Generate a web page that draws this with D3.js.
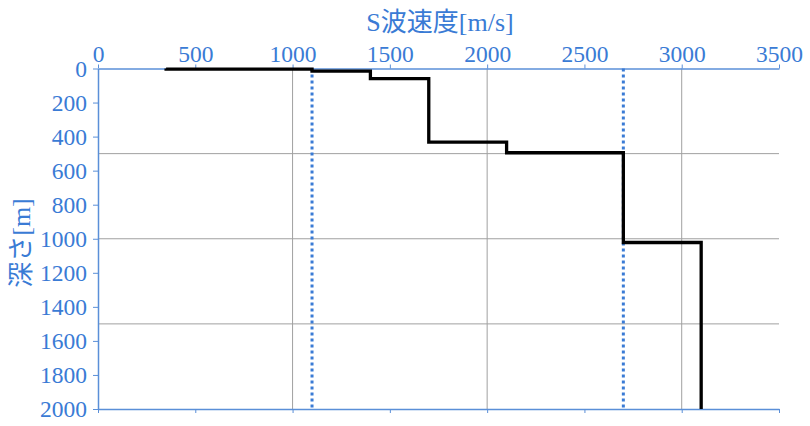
<!DOCTYPE html>
<html><head><meta charset="utf-8">
<script src="https://cdn.jsdelivr.net/npm/d3@7"></script>
<style>body{margin:0;background:#fff}</style>
</head><body>
<svg id="c" width="810" height="426"></svg>
<script>
// Data
const layerVelocities = [350, 1100, 1400, 1700, 2100, 2700, 3100];   // m/s
const layerBoundaries = [0, 4, 15, 60, 432, 495, 1022, 2000];          // m
const refVelocities = [1100, 2700];                                   // dotted reference lines
const xTicks = [0, 500, 1000, 1500, 2000, 2500, 3000, 3500];
const yTicks = [0, 200, 400, 600, 800, 1000, 1200, 1400, 1600, 1800, 2000];
const xGrid = [1000, 2000, 3000];
const yGrid = [500, 1000, 1500];
const xTitle = "S波速度[m/s]";
const yTitle = "深さ[m]";

const blue = "#3a7bd5", axisBlue = "#5a8fd8", grid = "#a0a0a0";
const font = "'Liberation Serif','Times New Roman','DejaVu Serif','Noto Sans CJK JP',serif";
const fmt = d3.format("d");

const svg = d3.select("#c");
const x = d3.scaleLinear().domain([0, 3500]).range([98, 779]);
const y = d3.scaleLinear().domain([0, 2000]).range([68.5, 409]);

// grid
svg.append("g").selectAll("line").data(xGrid).join("line")
  .attr("x1", d => x(d)).attr("x2", d => x(d)).attr("y1", y(0)).attr("y2", y(2000))
  .attr("stroke", grid).attr("stroke-width", 1);
svg.append("g").selectAll("line").data(yGrid).join("line")
  .attr("x1", x(0)).attr("x2", x(3500)).attr("y1", d => y(d)).attr("y2", d => y(d))
  .attr("stroke", grid).attr("stroke-width", 1);

// axes
function styleAxis(g, labels) {
  g.select(".domain").attr("stroke", axisBlue).attr("stroke-width", 1.5);
  g.selectAll(".tick line").attr("stroke", axisBlue).attr("stroke-width", 1);
  g.selectAll(".tick text").attr("fill", blue).style("font-family", font).attr("font-size", 23.5);
  if (!labels) g.selectAll(".tick text").remove();
}
svg.append("g").attr("transform", `translate(0,${y(0)})`)
  .call(d3.axisTop(x).tickValues(xTicks).tickFormat(fmt).tickSize(4).tickSizeOuter(0).tickPadding(3))
  .call(g => styleAxis(g, true));
svg.append("g").attr("transform", `translate(0,${y(2000)})`)
  .call(d3.axisBottom(x).tickValues(xTicks).tickFormat(fmt).tickSize(4).tickSizeOuter(0))
  .call(g => styleAxis(g, false));
svg.append("g").attr("transform", `translate(${x(0)},0)`)
  .call(d3.axisLeft(y).tickValues(yTicks).tickFormat(fmt).tickSize(5).tickSizeOuter(0).tickPadding(6))
  .call(g => styleAxis(g, true));

// reference dotted lines
svg.append("g").selectAll("line").data(refVelocities).join("line")
  .attr("x1", d => x(d)).attr("x2", d => x(d)).attr("y1", y(0)).attr("y2", y(2000))
  .attr("stroke", blue).attr("stroke-width", 3).attr("stroke-dasharray", "3,3");

// step profile
const pts = [];
layerVelocities.forEach((v, i) => {
  pts.push([v, layerBoundaries[i]]);
  pts.push([v, layerBoundaries[i + 1]]);
});
svg.append("path").datum(pts)
  .attr("d", d3.line().x(d => x(d[0])).y(d => y(d[1])))
  .attr("fill", "none").attr("stroke", "#000").attr("stroke-width", 3.3);

// titles
svg.append("text").attr("x", 440).attr("y", 31).attr("text-anchor", "middle")
  .attr("fill", blue).style("font-family", font).attr("font-size", 26).text(xTitle);
svg.append("text").attr("transform", "translate(30,243) rotate(-90)").attr("text-anchor", "middle")
  .attr("fill", blue).style("font-family", font).attr("font-size", 26).text(yTitle);
</script>
</body></html>
